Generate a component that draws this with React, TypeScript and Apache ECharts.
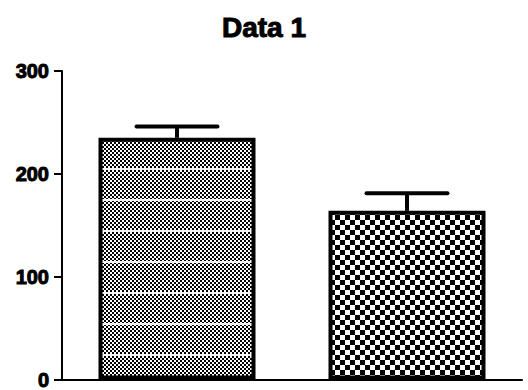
import React, { useEffect, useRef } from "react";
import * as echarts from "echarts";

const categories = ["A", "B"];
const means = [235, 164];
const upperErrors = [246, 181];
const yTicks = [0, 100, 200, 300];

function makeFinePattern(): HTMLCanvasElement {
  const c = document.createElement("canvas");
  c.width = 4;
  c.height = 124;
  const ctx = c.getContext("2d")!;
  ctx.fillStyle = "#fff";
  ctx.fillRect(0, 0, 4, 124);
  ctx.fillStyle = "#000";
  for (let y = 0; y < 124; y += 2) {
    for (let x = 0; x < 4; x += 2) {
      if (((x / 2) + (y / 2)) % 2 === 0) ctx.fillRect(x, y, 2, 2);
    }
  }
  ctx.fillStyle = "#f4f4f4";
  [13, 44, 75, 106].forEach((y) => ctx.fillRect(0, y, 4, 2));
  return c;
}

function makeCoarsePattern(): HTMLCanvasElement {
  const c = document.createElement("canvas");
  c.width = 10;
  c.height = 10;
  const ctx = c.getContext("2d")!;
  ctx.fillStyle = "#fff";
  ctx.fillRect(0, 0, 10, 10);
  ctx.fillStyle = "#000";
  ctx.fillRect(0, 0, 5, 5);
  ctx.fillRect(5, 5, 5, 5);
  return c;
}

export default function App() {
  const ref = useRef<HTMLDivElement>(null);
  useEffect(() => {
    if (!ref.current) return;
    const chart = echarts.init(ref.current, null, { renderer: "svg" });
    const fine = makeFinePattern();
    const coarse = makeCoarsePattern();
    const patterns = [
      { image: fine, repeat: "repeat", imageWidth: 4, imageHeight: 124 },
      { image: coarse, repeat: "repeat", imageWidth: 10, imageHeight: 10 },
    ];
    const font = "'Liberation Sans', Arial, sans-serif";
    chart.setOption({
      animation: false,
      title: {
        text: "Data 1",
        left: "center",
        top: 8,
        textStyle: {
          fontFamily: font,
          fontWeight: "bold",
          fontSize: 28,
          color: "#000",
          textBorderColor: "#000",
          textBorderWidth: 1,
        },
      },
      grid: { left: 62, right: 6, top: 71, bottom: 8 },
      xAxis: {
        type: "category",
        data: categories,
        axisLine: { lineStyle: { color: "#000", width: 2 } },
        axisTick: { alignWithLabel: true, length: 8, lineStyle: { color: "#000", width: 2 } },
        axisLabel: { show: false },
      },
      yAxis: {
        type: "value",
        min: 0,
        max: 300,
        interval: 100,
        splitLine: { show: false },
        axisLine: { show: true, lineStyle: { color: "#000", width: 2 } },
        axisTick: { show: true, length: 8, lineStyle: { color: "#000", width: 2 } },
        axisLabel: {
          margin: 13,
          fontFamily: font,
          fontWeight: "bold",
          fontSize: 20,
          color: "#000",
          textBorderColor: "#000",
          textBorderWidth: 1,
          formatter: (v: number) => (yTicks.includes(v) ? String(v) : ""),
        },
      },
      series: [
        {
          type: "bar",
          barWidth: 157,
          data: means.map((v, i) => ({
            value: v,
            itemStyle: { color: patterns[i], borderColor: "#000", borderWidth: 4 },
          })),
          z: 2,
        },
        {
          type: "custom",
          z: 3,
          data: means.map((m, i) => [i, m, upperErrors[i]]),
          encode: { x: 0, y: [1, 2] },
          renderItem: (params: any, api: any) => {
            const base = api.coord([api.value(0), api.value(1)]);
            const top = api.coord([api.value(0), api.value(2)]);
            const half = api.size([1, 0])[0] * 0.176;
            return {
              type: "group",
              children: [
                {
                  type: "line",
                  shape: { x1: base[0], y1: base[1], x2: top[0], y2: top[1] },
                  style: { stroke: "#000", lineWidth: 4 },
                },
                {
                  type: "line",
                  shape: { x1: top[0] - half, y1: top[1], x2: top[0] + half, y2: top[1] },
                  style: { stroke: "#000", lineWidth: 4, lineCap: "round" },
                },
              ],
            };
          },
        },
      ],
    });
    return () => chart.dispose();
  }, []);
  return (
    <div
      ref={ref}
      style={{ position: "fixed", left: 0, top: 0, width: 528, height: 390, background: "#fff" }}
    />
  );
}
